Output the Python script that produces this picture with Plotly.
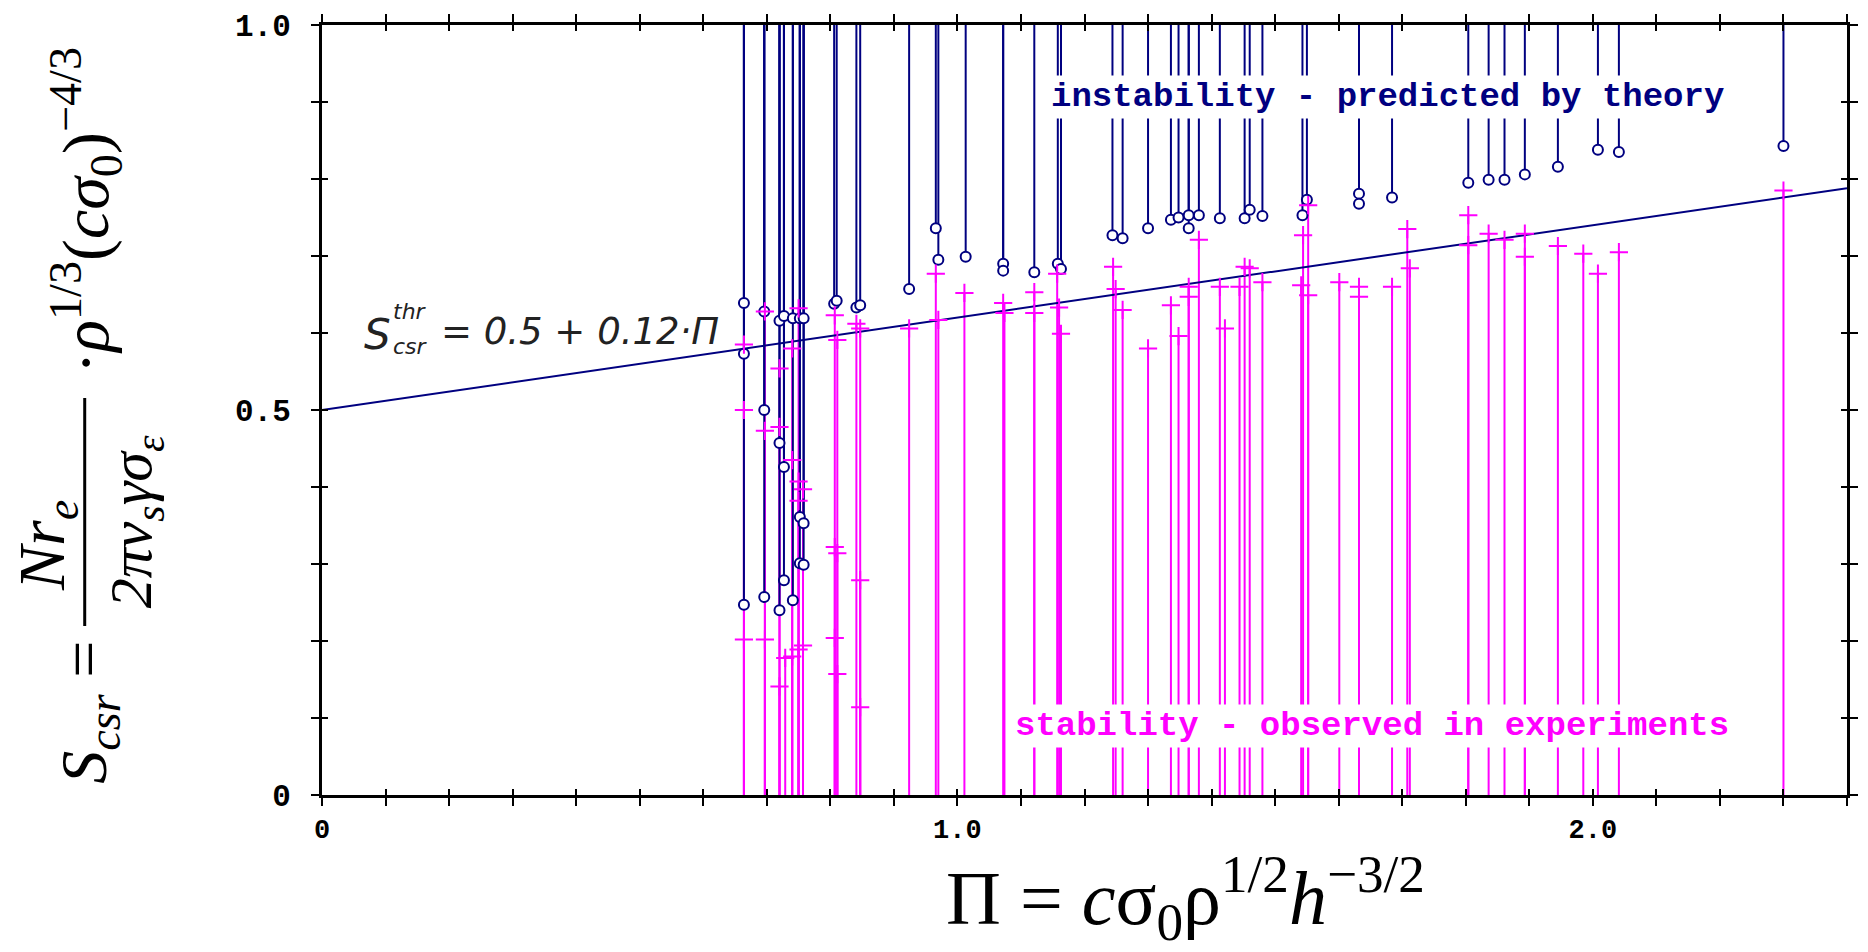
import plotly.graph_objects as go

# ---- data -------------------------------------------------------------
# theoretical threshold points (open circles) : Pi, S_csr
theory_x = [0.664, 0.664, 0.664,
            0.696, 0.696, 0.696,
            0.720, 0.720, 0.720,
            0.727, 0.727, 0.727,
            0.741, 0.741,
            0.752, 0.752, 0.752,
            0.758, 0.758, 0.758,
            0.806, 0.810,
            0.841, 0.847,
            0.924,
            0.966, 0.970,
            1.013,
            1.072, 1.072,
            1.121,
            1.158, 1.163,
            1.244, 1.260,
            1.300,
            1.336, 1.348,
            1.364, 1.364,
            1.380, 1.413,
            1.452, 1.460, 1.480,
            1.543, 1.550,
            1.632, 1.632,
            1.684,
            1.804, 1.836, 1.861, 1.893, 1.945,
            2.008, 2.041, 2.300]
theory_y = [0.639, 0.573, 0.247,
            0.628, 0.500, 0.257,
            0.616, 0.457, 0.240,
            0.622, 0.426, 0.279,
            0.619, 0.253,
            0.619, 0.361, 0.301,
            0.619, 0.353, 0.299,
            0.638, 0.642,
            0.633, 0.636,
            0.657,
            0.736, 0.695,
            0.699,
            0.690, 0.681,
            0.679,
            0.690, 0.683,
            0.727, 0.723,
            0.736,
            0.747, 0.750,
            0.753, 0.736,
            0.753, 0.749,
            0.749, 0.760, 0.752,
            0.753, 0.773,
            0.781, 0.768,
            0.776,
            0.795, 0.799, 0.799, 0.806, 0.816,
            0.838, 0.835, 0.843]

# experimentally observed stable points (crosses) : Pi, S_csr
exp_x = [0.664, 0.664, 0.664,
         0.697, 0.697, 0.697,
         0.720, 0.720, 0.720,
         0.729,
         0.740, 0.740, 0.740,
         0.750, 0.750, 0.750, 0.750,
         0.757, 0.757,
         0.807, 0.807, 0.807,
         0.811, 0.811, 0.811,
         0.841,
         0.847, 0.847, 0.847,
         0.924,
         0.966, 0.970,
         1.011,
         1.072, 1.074,
         1.121, 1.121,
         1.157, 1.160, 1.163,
         1.245, 1.249,
         1.260,
         1.300,
         1.336,
         1.348,
         1.364, 1.364,
         1.380,
         1.413,
         1.421,
         1.444,
         1.452,
         1.460,
         1.480,
         1.541, 1.544, 1.552, 1.552,
         1.601,
         1.632, 1.632,
         1.684,
         1.708, 1.712,
         1.804, 1.804,
         1.836,
         1.861,
         1.893, 1.893,
         1.945,
         1.985,
         2.008,
         2.041,
         2.300]
exp_y = [0.585, 0.500, 0.202,
         0.628, 0.473, 0.202,
         0.554, 0.478, 0.141,
         0.178,
         0.580, 0.435, 0.180,
         0.632, 0.407, 0.382, 0.189,
         0.397, 0.194,
         0.623, 0.322, 0.204,
         0.591, 0.314, 0.157,
         0.612,
         0.606, 0.279, 0.114,
         0.606,
         0.677, 0.617,
         0.652,
         0.639, 0.626,
         0.653, 0.626,
         0.677, 0.633, 0.599,
         0.686, 0.657,
         0.630,
         0.580,
         0.636,
         0.596,
         0.660, 0.647,
         0.721,
         0.660,
         0.606,
         0.660,
         0.686,
         0.684,
         0.666,
         0.662, 0.727, 0.766, 0.649,
         0.666,
         0.660, 0.647,
         0.660,
         0.735, 0.684,
         0.753, 0.714,
         0.729,
         0.721,
         0.729, 0.699,
         0.713,
         0.703,
         0.677,
         0.705,
         0.785]

# threshold fit S_thr = a + b * Pi
thr_a = 0.5
thr_b = 0.12

x_range = [0.0, 2.4]
y_range = [0.0, 1.0]
x_tick_labels = {0.0: "0", 1.0: "1.0", 2.0: "2.0"}
y_tick_labels = {0.0: "0", 0.5: "0.5", 1.0: "1.0"}

# ---- styling ----------------------------------------------------------
NAVY = "#000080"
MAGENTA = "#ff00ff"
W, H = 1868, 952
ML, MR, MT, MB = 322, 10, 25, 157
PW, PH = W - ML - MR, H - MT - MB


def paper_x(px):
    return (px - ML) / PW


def paper_y(py):
    return (H - MB - py) / PH


def note(px, py, text, font, angle=0, xanchor="center", yanchor="middle"):
    fig.add_annotation(x=paper_x(px), y=paper_y(py), xref="paper", yref="paper",
                       text=text, textangle=angle, showarrow=False,
                       xanchor=xanchor, yanchor=yanchor, font=font)


fig = go.Figure()

# stable region: magenta stems from the axis up to each observed point
mx, my = [], []
for x, y in zip(exp_x, exp_y):
    mx += [x, x, None]
    my += [0.0, y, None]
fig.add_trace(go.Scatter(x=mx, y=my, mode="lines",
                         line=dict(color=MAGENTA, width=2),
                         hoverinfo="skip", showlegend=False))

# unstable region: navy stems from each predicted point up to the top
nx, ny = [], []
for x, y in zip(theory_x, theory_y):
    nx += [x, x, None]
    ny += [y, y_range[1], None]
fig.add_trace(go.Scatter(x=nx, y=ny, mode="lines",
                         line=dict(color=NAVY, width=2),
                         hoverinfo="skip", showlegend=False))

# threshold line
fig.add_trace(go.Scatter(x=x_range,
                         y=[thr_a + thr_b * v for v in x_range],
                         mode="lines", line=dict(color=NAVY, width=2),
                         hoverinfo="skip", showlegend=False))

fig.add_trace(go.Scatter(x=theory_x, y=theory_y, mode="markers",
                         marker=dict(symbol="circle", size=10, color="white",
                                     line=dict(color=NAVY, width=2)),
                         showlegend=False))
fig.add_trace(go.Scatter(x=exp_x, y=exp_y, mode="markers",
                         marker=dict(symbol="cross-thin", size=13,
                                     line=dict(color=MAGENTA, width=2)),
                         showlegend=False))

# dummy trace so the overlay axes (inner half of the crossing ticks) exist
fig.add_trace(go.Scatter(x=[0], y=[0], xaxis="x2", yaxis="y2", mode="markers",
                         marker=dict(opacity=0), hoverinfo="skip",
                         showlegend=False))

xt = [round(i * 0.1, 1) for i in range(25)]
yt = [round(i * 0.1, 1) for i in range(11)]

fig.update_layout(
    width=W, height=H,
    margin=dict(l=ML, r=MR, t=MT, b=MB),
    paper_bgcolor="white", plot_bgcolor="white",
    xaxis=dict(range=x_range, tickmode="array", tickvals=xt,
               ticktext=[x_tick_labels.get(v, "") for v in xt],
               ticks="outside", ticklen=8, tickwidth=2, tickcolor="black",
               showline=True, linewidth=3, linecolor="black", mirror="ticks",
               showgrid=False, zeroline=False,
               tickfont=dict(family="Liberation Mono", size=27,
                             color="black", weight="bold")),
    yaxis=dict(range=y_range, tickmode="array", tickvals=yt,
               ticktext=[y_tick_labels.get(v, "") for v in yt],
               ticks="outside", ticklen=8, tickwidth=2, tickcolor="black",
               showline=True, linewidth=3, linecolor="black", mirror="ticks",
               showgrid=False, zeroline=False, ticklabelstandoff=14,
               tickfont=dict(family="Liberation Mono", size=31,
                             color="black", weight="bold")),
    xaxis2=dict(overlaying="x", anchor="y2", range=x_range, tickmode="array",
                tickvals=xt, ticks="inside", ticklen=6, tickwidth=2,
                tickcolor="black", showticklabels=False, mirror="ticks",
                showline=False, showgrid=False, zeroline=False),
    yaxis2=dict(overlaying="y", anchor="x2", range=y_range, tickmode="array",
                tickvals=yt, ticks="inside", ticklen=6, tickwidth=2,
                tickcolor="black", showticklabels=False, mirror="ticks",
                showline=False, showgrid=False, zeroline=False),
)

mono = "Liberation Mono"
fig.add_annotation(x=1.677, y=0.906, xref="x", yref="y",
                   text="instability - predicted by theory", showarrow=False,
                   xanchor="center", yanchor="middle",
                   font=dict(family=mono, size=34, color=NAVY, weight="bold"),
                   bgcolor="white", borderpad=2)
fig.add_annotation(x=1.653, y=0.090, xref="x", yref="y",
                   text="stability - observed in experiments", showarrow=False,
                   xanchor="center", yanchor="middle",
                   font=dict(family=mono, size=34, color=MAGENTA, weight="bold"),
                   bgcolor="white", borderpad=2)

# threshold formula label
lbl = dict(family="DejaVu Sans", color="#222222", style="italic")
note(362, 334, "S", dict(lbl, size=42), xanchor="left")
note(391, 312, "thr", dict(lbl, size=22), xanchor="left")
note(391, 346, "csr", dict(lbl, size=22), xanchor="left")
note(440, 331, "= 0.5 + 0.12·Π", dict(lbl, size=37), xanchor="left")

# y-axis title: S_csr = N r_e / (2 pi nu_s gamma sigma_eps) * rho^(1/3) (c sigma_0)^(-4/3)
serif = dict(family="Liberation Serif", color="black")
note(86, 712, "<i>S</i><sub><i>csr</i></sub> =", dict(serif, size=66), angle=-90)
note(44, 545, "<i>Nr</i><sub><i>e</i></sub>", dict(serif, size=66), angle=-90)
fig.add_shape(type="line", xref="paper", yref="paper",
              x0=paper_x(83), x1=paper_x(83), y0=paper_y(398), y1=paper_y(626),
              line=dict(color="black", width=3))
note(134, 522, "<i>2πν</i><sub><i>s</i></sub><i>γσ</i><sub><i>ε</i></sub>",
     dict(serif, size=60), angle=-90)
note(84, 210, "·<i>ρ</i><sup>1/3</sup>(<i>cσ</i><sub>0</sub>)<sup>−4/3</sup>",
     dict(serif, size=66), angle=-90)

# x-axis title
note(1192, 898, "Π = <i>c</i>σ<sub>0</sub>ρ<sup>1/2</sup><i>h</i><sup>−3/2</sup>",
     dict(serif, size=76))

fig.write_html("out.html")
